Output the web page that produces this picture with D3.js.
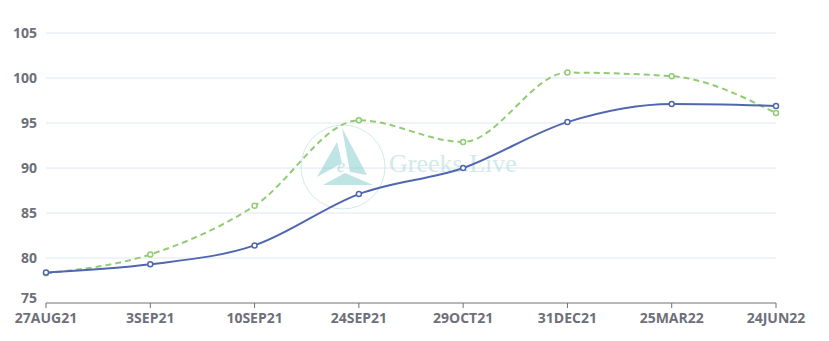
<!DOCTYPE html>
<html>
<head>
<meta charset="utf-8">
<script src="https://cdn.jsdelivr.net/npm/d3@7/dist/d3.min.js"></script>
<style>
  body { margin: 0; background: #fff; }
  .lbl { font-family: "Open Sans", "DejaVu Sans", sans-serif; }
  .wm { font-family: "Liberation Serif", "DejaVu Serif", serif; }
</style>
</head>
<body>
<div id="chart"></div>
<script>
const dates = ["27AUG21", "3SEP21", "10SEP21", "24SEP21", "29OCT21", "31DEC21", "25MAR22", "24JUN22"]
const solidSeries = [78.4, 79.3, 81.4, 87.1, 90.0, 95.1, 97.1, 96.9]
const dashedSeries = [78.3, 80.4, 85.8, 95.3, 92.9, 100.6, 100.2, 96.1]
const yTicks = [75, 80, 85, 90, 95, 100, 105]

const width = 829
const height = 341
const plotLeft = 46, plotRight = 776, plotTop = 33, plotBottom = 303

const svg = d3.select("#chart")
  .append("svg")
    .attr("width", width)
    .attr("height", height)

const x = d3.scalePoint().domain(dates).range([plotLeft, plotRight])
const y = d3.scaleLinear().domain([75, 105]).range([plotBottom, plotTop])

// grid
svg.append("g")
  .selectAll("line")
  .data(yTicks.slice(1))
  .enter().append("line")
    .attr("x1", plotLeft).attr("x2", plotRight)
    .attr("y1", d => y(d)).attr("y2", d => y(d))
    .attr("stroke", "#e0e6f1")

// y labels (the lowest one sits a bit higher, clear of the x labels)
svg.append("g")
  .selectAll("text")
  .data(yTicks)
  .enter().append("text")
    .attr("class", "lbl")
    .text(d => d)
    .attr("x", 37)
    .attr("y", d => y(d) + (d === 75 ? 0 : 5))
    .attr("text-anchor", "end")
    .attr("font-size", 14)
    .attr("font-weight", "bold")
    .attr("fill", "#6e7079")

// watermark
const wm = svg.append("g").attr("opacity", 0.5)
wm.append("circle").attr("cx", 343).attr("cy", 167).attr("r", 42)
  .attr("fill", "none").attr("stroke", "#a9d6d6").attr("stroke-width", 1)
wm.append("polygon").attr("points", "337,142 317,177 342,163").attr("fill", "#7fcaca")
wm.append("polygon").attr("points", "342,128 367,175 350,172").attr("fill", "#7fcaca")
wm.append("polygon").attr("points", "345,173 323,185 373,185").attr("fill", "#7fcaca")
wm.append("text").attr("class", "wm").text("e")
  .attr("x", 337).attr("y", 172).attr("font-size", 18)
  .attr("font-style", "italic").attr("fill", "#8ccccc")
wm.append("text").attr("class", "wm").text("Greeks.Live")
  .attr("x", 389).attr("y", 172).attr("font-size", 26)
  .attr("fill", "#a9d6d6")

// x axis
svg.append("line")
  .attr("x1", plotLeft).attr("x2", plotRight)
  .attr("y1", plotBottom).attr("y2", plotBottom)
  .attr("stroke", "#6e7079")
svg.append("g")
  .selectAll("line")
  .data(dates)
  .enter().append("line")
    .attr("x1", d => x(d)).attr("x2", d => x(d))
    .attr("y1", plotBottom).attr("y2", plotBottom + 5)
    .attr("stroke", "#6e7079")
svg.append("g")
  .selectAll("text")
  .data(dates)
  .enter().append("text")
    .attr("class", "lbl")
    .text(d => d)
    .attr("x", d => x(d))
    .attr("y", 323)
    .attr("text-anchor", "middle")
    .attr("font-size", 14)
    .attr("font-weight", "bold")
    .attr("fill", "#6e7079")

// lines
const line = d3.line()
  .x((d, i) => x(dates[i]))
  .y(d => y(d))
  .curve(d3.curveMonotoneX)

const series = [
  { values: dashedSeries, color: "#91cc75", dash: "6,4" },
  { values: solidSeries, color: "#5067b0", dash: null }
]

series.forEach(s => {
  svg.append("path")
    .attr("d", line(s.values))
    .attr("fill", "none")
    .attr("stroke", s.color)
    .attr("stroke-width", 2)
    .attr("stroke-dasharray", s.dash)
  svg.append("g")
    .selectAll("circle")
    .data(s.values)
    .enter().append("circle")
      .attr("cx", (d, i) => x(dates[i]))
      .attr("cy", d => y(d))
      .attr("r", 2.5)
      .attr("fill", "#fff")
      .attr("stroke", s.color)
      .attr("stroke-width", 1.5)
})
</script>
</body>
</html>
